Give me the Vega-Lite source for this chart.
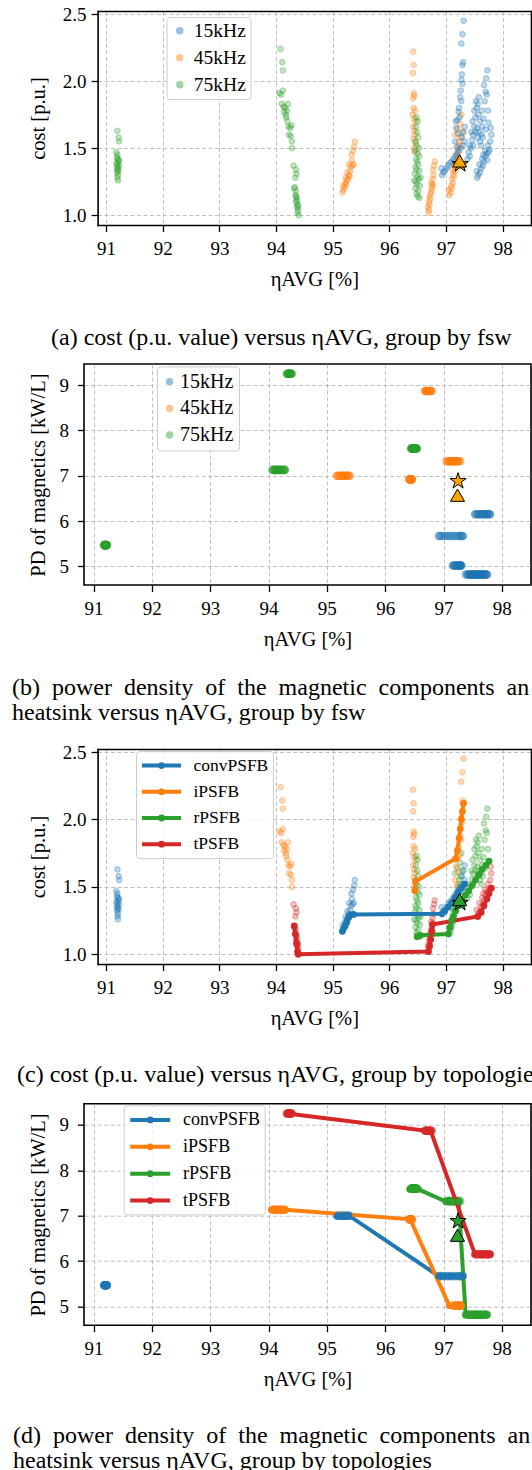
{
  "$schema": "https://vega.github.io/schema/vega-lite/v6.json",
  "background": "white",
  "padding": {"left": 11, "top": 5, "right": 0, "bottom": 0},
  "config": {
    "font": "Liberation Serif",
    "view": {"stroke": "black", "strokeWidth": 1.6},
    "style": {"guide-label": {"font": "Liberation Serif", "fill": "black"}, "guide-title": {"font": "Liberation Serif", "fill": "black"}},
    "axis": {"labelFont": "Liberation Serif", "labelFontSize": 19, "labelColor": "black", "titleFont": "Liberation Serif", "titleFontSize": 20.5, "titleFontWeight": "normal", "titleColor": "black", "tickColor": "black", "tickSize": 6.5, "tickWidth": 1.3, "domain": false, "gridColor": "#b0b0b0", "gridDash": [4, 2.5], "gridWidth": 0.8, "gridOpacity": 1, "labelPadding": 5, "labelOverlap": false, "labelFlush": false},
    "legend": {"labelFont": "Liberation Serif", "labelFontSize": 18.5, "labelColor": "black", "strokeColor": "#cccccc", "fillColor": "rgba(255,255,255,0.8)", "cornerRadius": 3},
    "title": {"font": "Liberation Serif", "fontSize": 24, "fontWeight": "normal", "color": "black"}
  },
  "datasets": {
    "pts": [
      {"t":"convPSFB","f":"75kHz","e":91.20,"c":1.63,"p":5.47},{"t":"convPSFB","f":"75kHz","e":91.22,"c":1.58,"p":5.47},{"t":"convPSFB","f":"75kHz","e":91.23,"c":1.55,"p":5.47},{"t":"convPSFB","f":"75kHz","e":91.18,"c":1.47,"p":5.47},{"t":"convPSFB","f":"75kHz","e":91.20,"c":1.45,"p":5.47},{"t":"convPSFB","f":"75kHz","e":91.19,"c":1.43,"p":5.47},{"t":"convPSFB","f":"75kHz","e":91.21,"c":1.42,"p":5.47},{"t":"convPSFB","f":"75kHz","e":91.23,"c":1.41,"p":5.47},{"t":"convPSFB","f":"75kHz","e":91.22,"c":1.40,"p":5.47},{"t":"convPSFB","f":"75kHz","e":91.18,"c":1.39,"p":5.47},{"t":"convPSFB","f":"75kHz","e":91.20,"c":1.38,"p":5.47},{"t":"convPSFB","f":"75kHz","e":91.23,"c":1.37,"p":5.47},{"t":"convPSFB","f":"75kHz","e":91.19,"c":1.36,"p":5.47},{"t":"convPSFB","f":"75kHz","e":91.21,"c":1.35,"p":5.47},{"t":"convPSFB","f":"75kHz","e":91.20,"c":1.34,"p":5.47},{"t":"convPSFB","f":"75kHz","e":91.22,"c":1.33,"p":5.47},{"t":"convPSFB","f":"75kHz","e":91.19,"c":1.32,"p":5.47},{"t":"convPSFB","f":"75kHz","e":91.21,"c":1.30,"p":5.47},{"t":"convPSFB","f":"75kHz","e":91.20,"c":1.28,"p":5.47},{"t":"convPSFB","f":"75kHz","e":91.21,"c":1.26,"p":5.47},
      {"t":"iPSFB","f":"75kHz","e":94.08,"c":2.24,"p":7.13},{"t":"iPSFB","f":"75kHz","e":94.11,"c":2.14,"p":7.13},{"t":"iPSFB","f":"75kHz","e":94.12,"c":2.08,"p":7.13},{"t":"iPSFB","f":"75kHz","e":94.06,"c":1.91,"p":7.13},{"t":"iPSFB","f":"75kHz","e":94.09,"c":1.90,"p":7.13},{"t":"iPSFB","f":"75kHz","e":94.12,"c":1.93,"p":7.13},{"t":"iPSFB","f":"75kHz","e":94.10,"c":1.83,"p":7.13},{"t":"iPSFB","f":"75kHz","e":94.13,"c":1.81,"p":7.13},{"t":"iPSFB","f":"75kHz","e":94.16,"c":1.80,"p":7.13},{"t":"iPSFB","f":"75kHz","e":94.14,"c":1.77,"p":7.13},{"t":"iPSFB","f":"75kHz","e":94.17,"c":1.75,"p":7.13},{"t":"iPSFB","f":"75kHz","e":94.19,"c":1.78,"p":7.13},{"t":"iPSFB","f":"75kHz","e":94.21,"c":1.83,"p":7.13},{"t":"iPSFB","f":"75kHz","e":94.18,"c":1.73,"p":7.13},{"t":"iPSFB","f":"75kHz","e":94.20,"c":1.70,"p":7.13},{"t":"iPSFB","f":"75kHz","e":94.22,"c":1.66,"p":7.13},{"t":"iPSFB","f":"75kHz","e":94.25,"c":1.65,"p":7.13},{"t":"iPSFB","f":"75kHz","e":94.27,"c":1.67,"p":7.13},{"t":"iPSFB","f":"75kHz","e":94.23,"c":1.60,"p":7.13},{"t":"iPSFB","f":"75kHz","e":94.26,"c":1.59,"p":7.13},{"t":"iPSFB","f":"75kHz","e":94.28,"c":1.55,"p":7.13},{"t":"iPSFB","f":"75kHz","e":94.28,"c":1.50,"p":7.13},
      {"t":"tPSFB","f":"75kHz","e":94.31,"c":1.37,"p":9.25},{"t":"tPSFB","f":"75kHz","e":94.35,"c":1.34,"p":9.25},{"t":"tPSFB","f":"75kHz","e":94.36,"c":1.31,"p":9.25},{"t":"tPSFB","f":"75kHz","e":94.34,"c":1.28,"p":9.25},{"t":"tPSFB","f":"75kHz","e":94.33,"c":1.21,"p":9.25},{"t":"tPSFB","f":"75kHz","e":94.32,"c":1.20,"p":9.25},{"t":"tPSFB","f":"75kHz","e":94.35,"c":1.18,"p":9.25},{"t":"tPSFB","f":"75kHz","e":94.34,"c":1.15,"p":9.25},{"t":"tPSFB","f":"75kHz","e":94.36,"c":1.14,"p":9.25},{"t":"tPSFB","f":"75kHz","e":94.36,"c":1.13,"p":9.25},{"t":"tPSFB","f":"75kHz","e":94.37,"c":1.11,"p":9.25},{"t":"tPSFB","f":"75kHz","e":94.35,"c":1.10,"p":9.25},{"t":"tPSFB","f":"75kHz","e":94.38,"c":1.08,"p":9.25},{"t":"tPSFB","f":"75kHz","e":94.39,"c":1.07,"p":9.25},{"t":"tPSFB","f":"75kHz","e":94.37,"c":1.06,"p":9.25},{"t":"tPSFB","f":"75kHz","e":94.39,"c":1.04,"p":9.25},{"t":"tPSFB","f":"75kHz","e":94.38,"c":1.02,"p":9.25},{"t":"tPSFB","f":"75kHz","e":94.40,"c":1.00,"p":9.25},
      {"t":"convPSFB","f":"45kHz","e":95.17,"c":1.17,"p":7.0},{"t":"convPSFB","f":"45kHz","e":95.19,"c":1.19,"p":7.0},{"t":"convPSFB","f":"45kHz","e":95.18,"c":1.22,"p":7.0},{"t":"convPSFB","f":"45kHz","e":95.21,"c":1.21,"p":7.0},{"t":"convPSFB","f":"45kHz","e":95.22,"c":1.24,"p":7.0},{"t":"convPSFB","f":"45kHz","e":95.24,"c":1.23,"p":7.0},{"t":"convPSFB","f":"45kHz","e":95.25,"c":1.26,"p":7.0},{"t":"convPSFB","f":"45kHz","e":95.23,"c":1.28,"p":7.0},{"t":"convPSFB","f":"45kHz","e":95.27,"c":1.27,"p":7.0},{"t":"convPSFB","f":"45kHz","e":95.28,"c":1.30,"p":7.0},{"t":"convPSFB","f":"45kHz","e":95.30,"c":1.29,"p":7.0},{"t":"convPSFB","f":"45kHz","e":95.26,"c":1.32,"p":7.0},{"t":"convPSFB","f":"45kHz","e":95.31,"c":1.33,"p":7.0},{"t":"convPSFB","f":"45kHz","e":95.32,"c":1.36,"p":7.0},{"t":"convPSFB","f":"45kHz","e":95.29,"c":1.38,"p":7.0},{"t":"convPSFB","f":"45kHz","e":95.35,"c":1.37,"p":7.0},{"t":"convPSFB","f":"45kHz","e":95.37,"c":1.38,"p":7.0},{"t":"convPSFB","f":"45kHz","e":95.34,"c":1.41,"p":7.0},{"t":"convPSFB","f":"45kHz","e":95.33,"c":1.45,"p":7.0},{"t":"convPSFB","f":"45kHz","e":95.36,"c":1.48,"p":7.0},{"t":"convPSFB","f":"45kHz","e":95.38,"c":1.51,"p":7.0},{"t":"convPSFB","f":"45kHz","e":95.39,"c":1.55,"p":7.0},
      {"t":"iPSFB","f":"45kHz","e":96.42,"c":2.22,"p":6.92},{"t":"iPSFB","f":"45kHz","e":96.43,"c":2.12,"p":6.92},{"t":"iPSFB","f":"45kHz","e":96.42,"c":2.06,"p":6.92},{"t":"iPSFB","f":"45kHz","e":96.43,"c":1.91,"p":6.92},{"t":"iPSFB","f":"45kHz","e":96.44,"c":1.89,"p":6.92},{"t":"iPSFB","f":"45kHz","e":96.42,"c":1.87,"p":6.92},{"t":"iPSFB","f":"45kHz","e":96.43,"c":1.80,"p":6.92},{"t":"iPSFB","f":"45kHz","e":96.45,"c":1.78,"p":6.92},{"t":"iPSFB","f":"45kHz","e":96.41,"c":1.75,"p":6.92},{"t":"iPSFB","f":"45kHz","e":96.44,"c":1.72,"p":6.92},{"t":"iPSFB","f":"45kHz","e":96.46,"c":1.70,"p":6.92},{"t":"iPSFB","f":"45kHz","e":96.42,"c":1.66,"p":6.92},{"t":"iPSFB","f":"45kHz","e":96.44,"c":1.63,"p":6.92},{"t":"iPSFB","f":"45kHz","e":96.45,"c":1.60,"p":6.92},{"t":"iPSFB","f":"45kHz","e":96.43,"c":1.57,"p":6.92},{"t":"iPSFB","f":"45kHz","e":96.46,"c":1.54,"p":6.92},{"t":"iPSFB","f":"45kHz","e":96.44,"c":1.50,"p":6.92},{"t":"iPSFB","f":"45kHz","e":96.45,"c":1.47,"p":6.92},
      {"t":"rPSFB","f":"75kHz","e":96.48,"c":1.73,"p":7.6},{"t":"rPSFB","f":"75kHz","e":96.50,"c":1.70,"p":7.6},{"t":"rPSFB","f":"75kHz","e":96.47,"c":1.66,"p":7.6},{"t":"rPSFB","f":"75kHz","e":96.49,"c":1.62,"p":7.6},{"t":"rPSFB","f":"75kHz","e":96.51,"c":1.58,"p":7.6},{"t":"rPSFB","f":"75kHz","e":96.46,"c":1.55,"p":7.6},{"t":"rPSFB","f":"75kHz","e":96.48,"c":1.52,"p":7.6},{"t":"rPSFB","f":"75kHz","e":96.52,"c":1.50,"p":7.6},{"t":"rPSFB","f":"75kHz","e":96.45,"c":1.48,"p":7.6},{"t":"rPSFB","f":"75kHz","e":96.50,"c":1.46,"p":7.6},{"t":"rPSFB","f":"75kHz","e":96.53,"c":1.44,"p":7.6},{"t":"rPSFB","f":"75kHz","e":96.47,"c":1.42,"p":7.6},{"t":"rPSFB","f":"75kHz","e":96.49,"c":1.40,"p":7.6},{"t":"rPSFB","f":"75kHz","e":96.51,"c":1.38,"p":7.6},{"t":"rPSFB","f":"75kHz","e":96.46,"c":1.36,"p":7.6},{"t":"rPSFB","f":"75kHz","e":96.48,"c":1.34,"p":7.6},{"t":"rPSFB","f":"75kHz","e":96.53,"c":1.33,"p":7.6},{"t":"rPSFB","f":"75kHz","e":96.45,"c":1.31,"p":7.6},{"t":"rPSFB","f":"75kHz","e":96.50,"c":1.29,"p":7.6},{"t":"rPSFB","f":"75kHz","e":96.55,"c":1.28,"p":7.6},{"t":"rPSFB","f":"75kHz","e":96.52,"c":1.27,"p":7.6},{"t":"rPSFB","f":"75kHz","e":96.44,"c":1.26,"p":7.6},{"t":"rPSFB","f":"75kHz","e":96.47,"c":1.25,"p":7.6},{"t":"rPSFB","f":"75kHz","e":96.49,"c":1.23,"p":7.6},{"t":"rPSFB","f":"75kHz","e":96.54,"c":1.22,"p":7.6},{"t":"rPSFB","f":"75kHz","e":96.46,"c":1.20,"p":7.6},{"t":"rPSFB","f":"75kHz","e":96.51,"c":1.18,"p":7.6},{"t":"rPSFB","f":"75kHz","e":96.48,"c":1.16,"p":7.6},{"t":"rPSFB","f":"75kHz","e":96.50,"c":1.14,"p":7.6},{"t":"rPSFB","f":"75kHz","e":96.53,"c":1.13,"p":7.6},
      {"t":"tPSFB","f":"45kHz","e":96.69,"c":1.02,"p":8.87},{"t":"tPSFB","f":"45kHz","e":96.70,"c":1.04,"p":8.87},{"t":"tPSFB","f":"45kHz","e":96.68,"c":1.06,"p":8.87},{"t":"tPSFB","f":"45kHz","e":96.71,"c":1.08,"p":8.87},{"t":"tPSFB","f":"45kHz","e":96.70,"c":1.10,"p":8.87},{"t":"tPSFB","f":"45kHz","e":96.72,"c":1.12,"p":8.87},{"t":"tPSFB","f":"45kHz","e":96.71,"c":1.14,"p":8.87},{"t":"tPSFB","f":"45kHz","e":96.73,"c":1.16,"p":8.87},{"t":"tPSFB","f":"45kHz","e":96.74,"c":1.18,"p":8.87},{"t":"tPSFB","f":"45kHz","e":96.75,"c":1.20,"p":8.87},{"t":"tPSFB","f":"45kHz","e":96.76,"c":1.22,"p":8.87},{"t":"tPSFB","f":"45kHz","e":96.74,"c":1.24,"p":8.87},{"t":"tPSFB","f":"45kHz","e":96.77,"c":1.23,"p":8.87},{"t":"tPSFB","f":"45kHz","e":96.76,"c":1.27,"p":8.87},{"t":"tPSFB","f":"45kHz","e":96.78,"c":1.30,"p":8.87},{"t":"tPSFB","f":"45kHz","e":96.77,"c":1.34,"p":8.87},{"t":"tPSFB","f":"45kHz","e":96.79,"c":1.37,"p":8.87},{"t":"tPSFB","f":"45kHz","e":96.80,"c":1.40,"p":8.87},
      {"t":"rPSFB","f":"45kHz","e":97.06,"c":1.15,"p":7.32},{"t":"rPSFB","f":"45kHz","e":97.08,"c":1.17,"p":7.32},{"t":"rPSFB","f":"45kHz","e":97.05,"c":1.19,"p":7.32},{"t":"rPSFB","f":"45kHz","e":97.10,"c":1.20,"p":7.32},{"t":"rPSFB","f":"45kHz","e":97.09,"c":1.22,"p":7.32},{"t":"rPSFB","f":"45kHz","e":97.12,"c":1.24,"p":7.32},{"t":"rPSFB","f":"45kHz","e":97.11,"c":1.27,"p":7.32},{"t":"rPSFB","f":"45kHz","e":97.14,"c":1.29,"p":7.32},{"t":"rPSFB","f":"45kHz","e":97.13,"c":1.31,"p":7.32},{"t":"rPSFB","f":"45kHz","e":97.12,"c":1.34,"p":7.32},{"t":"rPSFB","f":"45kHz","e":97.16,"c":1.33,"p":7.32},{"t":"rPSFB","f":"45kHz","e":97.15,"c":1.36,"p":7.32},{"t":"rPSFB","f":"45kHz","e":97.18,"c":1.38,"p":7.32},{"t":"rPSFB","f":"45kHz","e":97.17,"c":1.40,"p":7.32},{"t":"rPSFB","f":"45kHz","e":97.20,"c":1.42,"p":7.32},{"t":"rPSFB","f":"45kHz","e":97.19,"c":1.45,"p":7.32},{"t":"rPSFB","f":"45kHz","e":97.22,"c":1.47,"p":7.32},{"t":"rPSFB","f":"45kHz","e":97.21,"c":1.50,"p":7.32},{"t":"rPSFB","f":"45kHz","e":97.24,"c":1.52,"p":7.32},{"t":"rPSFB","f":"45kHz","e":97.23,"c":1.55,"p":7.32},{"t":"rPSFB","f":"45kHz","e":97.26,"c":1.58,"p":7.32},{"t":"rPSFB","f":"45kHz","e":97.16,"c":1.60,"p":7.32},{"t":"rPSFB","f":"45kHz","e":97.29,"c":1.62,"p":7.32},{"t":"rPSFB","f":"45kHz","e":97.20,"c":1.64,"p":7.32},{"t":"rPSFB","f":"45kHz","e":97.25,"c":1.68,"p":7.32},{"t":"rPSFB","f":"45kHz","e":97.27,"c":1.75,"p":7.32},
      {"t":"iPSFB","f":"15kHz","e":97.31,"c":2.45,"p":5.02},{"t":"iPSFB","f":"15kHz","e":97.29,"c":2.35,"p":5.02},{"t":"iPSFB","f":"15kHz","e":97.27,"c":2.28,"p":5.02},{"t":"iPSFB","f":"15kHz","e":97.30,"c":2.14,"p":5.02},{"t":"iPSFB","f":"15kHz","e":97.29,"c":2.12,"p":5.02},{"t":"iPSFB","f":"15kHz","e":97.28,"c":2.05,"p":5.02},{"t":"iPSFB","f":"15kHz","e":97.27,"c":2.01,"p":5.02},{"t":"iPSFB","f":"15kHz","e":97.29,"c":1.98,"p":5.02},{"t":"iPSFB","f":"15kHz","e":97.26,"c":1.93,"p":5.02},{"t":"iPSFB","f":"15kHz","e":97.25,"c":1.88,"p":5.02},{"t":"iPSFB","f":"15kHz","e":97.27,"c":1.85,"p":5.02},{"t":"iPSFB","f":"15kHz","e":97.23,"c":1.80,"p":5.02},{"t":"iPSFB","f":"15kHz","e":97.22,"c":1.77,"p":5.02},{"t":"iPSFB","f":"15kHz","e":97.24,"c":1.73,"p":5.02},{"t":"iPSFB","f":"15kHz","e":97.20,"c":1.71,"p":5.02},{"t":"iPSFB","f":"15kHz","e":97.17,"c":1.70,"p":5.02},{"t":"iPSFB","f":"15kHz","e":97.18,"c":1.65,"p":5.02},{"t":"iPSFB","f":"15kHz","e":97.21,"c":1.61,"p":5.02},{"t":"iPSFB","f":"15kHz","e":97.16,"c":1.55,"p":5.02},{"t":"iPSFB","f":"15kHz","e":97.19,"c":1.51,"p":5.02},
      {"t":"convPSFB","f":"15kHz","e":96.93,"c":1.30,"p":5.67},{"t":"convPSFB","f":"15kHz","e":96.95,"c":1.32,"p":5.67},{"t":"convPSFB","f":"15kHz","e":96.92,"c":1.35,"p":5.67},{"t":"convPSFB","f":"15kHz","e":96.98,"c":1.33,"p":5.67},{"t":"convPSFB","f":"15kHz","e":97.01,"c":1.35,"p":5.67},{"t":"convPSFB","f":"15kHz","e":97.04,"c":1.37,"p":5.67},{"t":"convPSFB","f":"15kHz","e":97.07,"c":1.39,"p":5.67},{"t":"convPSFB","f":"15kHz","e":97.10,"c":1.40,"p":5.67},{"t":"convPSFB","f":"15kHz","e":97.13,"c":1.42,"p":5.67},{"t":"convPSFB","f":"15kHz","e":97.16,"c":1.44,"p":5.67},{"t":"convPSFB","f":"15kHz","e":97.19,"c":1.46,"p":5.67},{"t":"convPSFB","f":"15kHz","e":97.22,"c":1.48,"p":5.67},{"t":"convPSFB","f":"15kHz","e":97.26,"c":1.50,"p":5.67},{"t":"convPSFB","f":"15kHz","e":97.30,"c":1.52,"p":5.67},{"t":"convPSFB","f":"15kHz","e":97.33,"c":1.55,"p":5.67},{"t":"convPSFB","f":"15kHz","e":97.28,"c":1.58,"p":5.67},{"t":"convPSFB","f":"15kHz","e":97.31,"c":1.62,"p":5.67},{"t":"convPSFB","f":"15kHz","e":97.33,"c":1.66,"p":5.67},
      {"t":"rPSFB","f":"15kHz","e":97.38,"c":1.42,"p":4.82},{"t":"rPSFB","f":"15kHz","e":97.42,"c":1.44,"p":4.82},{"t":"rPSFB","f":"15kHz","e":97.40,"c":1.47,"p":4.82},{"t":"rPSFB","f":"15kHz","e":97.42,"c":1.52,"p":4.82},{"t":"rPSFB","f":"15kHz","e":97.44,"c":1.50,"p":4.82},{"t":"rPSFB","f":"15kHz","e":97.48,"c":1.52,"p":4.82},{"t":"rPSFB","f":"15kHz","e":97.46,"c":1.56,"p":4.82},{"t":"rPSFB","f":"15kHz","e":97.45,"c":1.62,"p":4.82},{"t":"rPSFB","f":"15kHz","e":97.48,"c":1.60,"p":4.82},{"t":"rPSFB","f":"15kHz","e":97.50,"c":1.66,"p":4.82},{"t":"rPSFB","f":"15kHz","e":97.47,"c":1.70,"p":4.82},{"t":"rPSFB","f":"15kHz","e":97.52,"c":1.73,"p":4.82},{"t":"rPSFB","f":"15kHz","e":97.50,"c":1.78,"p":4.82},{"t":"rPSFB","f":"15kHz","e":97.54,"c":1.80,"p":4.82},{"t":"rPSFB","f":"15kHz","e":97.53,"c":1.85,"p":4.82},{"t":"rPSFB","f":"15kHz","e":97.56,"c":1.83,"p":4.82},{"t":"rPSFB","f":"15kHz","e":97.58,"c":1.88,"p":4.82},{"t":"rPSFB","f":"15kHz","e":97.57,"c":1.75,"p":4.82},{"t":"rPSFB","f":"15kHz","e":97.60,"c":1.70,"p":4.82},{"t":"rPSFB","f":"15kHz","e":97.55,"c":1.65,"p":4.82},{"t":"rPSFB","f":"15kHz","e":97.52,"c":1.62,"p":4.82},{"t":"rPSFB","f":"15kHz","e":97.56,"c":1.58,"p":4.82},{"t":"rPSFB","f":"15kHz","e":97.58,"c":1.62,"p":4.82},{"t":"rPSFB","f":"15kHz","e":97.62,"c":1.60,"p":4.82},{"t":"rPSFB","f":"15kHz","e":97.60,"c":1.55,"p":4.82},{"t":"rPSFB","f":"15kHz","e":97.62,"c":1.52,"p":4.82},{"t":"rPSFB","f":"15kHz","e":97.64,"c":1.66,"p":4.82},{"t":"rPSFB","f":"15kHz","e":97.65,"c":1.58,"p":4.82},{"t":"rPSFB","f":"15kHz","e":97.66,"c":1.72,"p":4.82},{"t":"rPSFB","f":"15kHz","e":97.63,"c":1.78,"p":4.82},{"t":"rPSFB","f":"15kHz","e":97.68,"c":1.85,"p":4.82},{"t":"rPSFB","f":"15kHz","e":97.70,"c":1.92,"p":4.82},{"t":"rPSFB","f":"15kHz","e":97.67,"c":1.97,"p":4.82},{"t":"rPSFB","f":"15kHz","e":97.71,"c":2.02,"p":4.82},{"t":"rPSFB","f":"15kHz","e":97.73,"c":2.08,"p":4.82},{"t":"rPSFB","f":"15kHz","e":97.72,"c":1.90,"p":4.82},{"t":"rPSFB","f":"15kHz","e":97.74,"c":1.78,"p":4.82},{"t":"rPSFB","f":"15kHz","e":97.75,"c":1.69,"p":4.82},{"t":"rPSFB","f":"15kHz","e":97.70,"c":1.64,"p":4.82},
      {"t":"tPSFB","f":"15kHz","e":97.55,"c":1.28,"p":6.15},{"t":"tPSFB","f":"15kHz","e":97.57,"c":1.30,"p":6.15},{"t":"tPSFB","f":"15kHz","e":97.54,"c":1.33,"p":6.15},{"t":"tPSFB","f":"15kHz","e":97.60,"c":1.32,"p":6.15},{"t":"tPSFB","f":"15kHz","e":97.62,"c":1.35,"p":6.15},{"t":"tPSFB","f":"15kHz","e":97.59,"c":1.38,"p":6.15},{"t":"tPSFB","f":"15kHz","e":97.65,"c":1.37,"p":6.15},{"t":"tPSFB","f":"15kHz","e":97.67,"c":1.40,"p":6.15},{"t":"tPSFB","f":"15kHz","e":97.64,"c":1.42,"p":6.15},{"t":"tPSFB","f":"15kHz","e":97.73,"c":1.41,"p":6.15},{"t":"tPSFB","f":"15kHz","e":97.70,"c":1.44,"p":6.15},{"t":"tPSFB","f":"15kHz","e":97.66,"c":1.45,"p":6.15},{"t":"tPSFB","f":"15kHz","e":97.72,"c":1.46,"p":6.15},{"t":"tPSFB","f":"15kHz","e":97.69,"c":1.48,"p":6.15},{"t":"tPSFB","f":"15kHz","e":97.75,"c":1.47,"p":6.15},{"t":"tPSFB","f":"15kHz","e":97.77,"c":1.49,"p":6.15},{"t":"tPSFB","f":"15kHz","e":97.74,"c":1.52,"p":6.15},{"t":"tPSFB","f":"15kHz","e":97.78,"c":1.55,"p":6.15},{"t":"tPSFB","f":"15kHz","e":97.80,"c":1.60,"p":6.15},{"t":"tPSFB","f":"15kHz","e":97.79,"c":1.65,"p":6.15}
    ],
    "parC": [
      {"t":"convPSFB","e":95.17,"c":1.17},{"t":"convPSFB","e":95.19,"c":1.19},{"t":"convPSFB","e":95.22,"c":1.21},{"t":"convPSFB","e":95.25,"c":1.24},{"t":"convPSFB","e":95.28,"c":1.27},{"t":"convPSFB","e":95.31,"c":1.29},{"t":"convPSFB","e":95.37,"c":1.295},{"t":"convPSFB","e":96.93,"c":1.30},{"t":"convPSFB","e":96.98,"c":1.32},{"t":"convPSFB","e":97.04,"c":1.35},{"t":"convPSFB","e":97.10,"c":1.38},{"t":"convPSFB","e":97.16,"c":1.42},{"t":"convPSFB","e":97.22,"c":1.46},{"t":"convPSFB","e":97.28,"c":1.49},{"t":"convPSFB","e":97.33,"c":1.52},
      {"t":"iPSFB","e":96.45,"c":1.47},{"t":"iPSFB","e":96.46,"c":1.54},{"t":"iPSFB","e":97.17,"c":1.71},{"t":"iPSFB","e":97.20,"c":1.77},{"t":"iPSFB","e":97.23,"c":1.86},{"t":"iPSFB","e":97.25,"c":1.93},{"t":"iPSFB","e":97.27,"c":2.00},{"t":"iPSFB","e":97.29,"c":2.06},{"t":"iPSFB","e":97.31,"c":2.12},
      {"t":"rPSFB","e":96.49,"c":1.13},{"t":"rPSFB","e":96.55,"c":1.14},{"t":"rPSFB","e":97.04,"c":1.15},{"t":"rPSFB","e":97.07,"c":1.20},{"t":"rPSFB","e":97.10,"c":1.25},{"t":"rPSFB","e":97.13,"c":1.28},{"t":"rPSFB","e":97.17,"c":1.32},{"t":"rPSFB","e":97.22,"c":1.36},{"t":"rPSFB","e":97.28,"c":1.40},{"t":"rPSFB","e":97.34,"c":1.44},{"t":"rPSFB","e":97.40,"c":1.47},{"t":"rPSFB","e":97.46,"c":1.51},{"t":"rPSFB","e":97.52,"c":1.55},{"t":"rPSFB","e":97.58,"c":1.59},{"t":"rPSFB","e":97.64,"c":1.63},{"t":"rPSFB","e":97.70,"c":1.66},{"t":"rPSFB","e":97.76,"c":1.69},
      {"t":"tPSFB","e":94.32,"c":1.21},{"t":"tPSFB","e":94.34,"c":1.15},{"t":"tPSFB","e":94.36,"c":1.08},{"t":"tPSFB","e":94.38,"c":1.02},{"t":"tPSFB","e":94.39,"c":1.00},{"t":"tPSFB","e":96.69,"c":1.02},{"t":"tPSFB","e":96.71,"c":1.06},{"t":"tPSFB","e":96.73,"c":1.11},{"t":"tPSFB","e":96.75,"c":1.17},{"t":"tPSFB","e":96.76,"c":1.22},{"t":"tPSFB","e":97.56,"c":1.28},{"t":"tPSFB","e":97.62,"c":1.31},{"t":"tPSFB","e":97.67,"c":1.36},{"t":"tPSFB","e":97.72,"c":1.41},{"t":"tPSFB","e":97.76,"c":1.45},{"t":"tPSFB","e":97.80,"c":1.49}
    ],
    "parD": [
      {"t":"convPSFB","e":95.18,"p":7.0},{"t":"convPSFB","e":95.25,"p":7.0},{"t":"convPSFB","e":95.32,"p":7.0},{"t":"convPSFB","e":95.38,"p":7.0},{"t":"convPSFB","e":96.92,"p":5.67},{"t":"convPSFB","e":97.02,"p":5.67},{"t":"convPSFB","e":97.12,"p":5.67},{"t":"convPSFB","e":97.22,"p":5.67},{"t":"convPSFB","e":97.33,"p":5.67},
      {"t":"iPSFB","e":94.05,"p":7.13},{"t":"iPSFB","e":94.13,"p":7.13},{"t":"iPSFB","e":94.21,"p":7.13},{"t":"iPSFB","e":94.29,"p":7.13},{"t":"iPSFB","e":96.43,"p":6.92},{"t":"iPSFB","e":97.10,"p":5.02},{"t":"iPSFB","e":97.20,"p":5.02},{"t":"iPSFB","e":97.31,"p":5.02},
      {"t":"rPSFB","e":96.42,"p":7.58},{"t":"rPSFB","e":96.50,"p":7.58},{"t":"rPSFB","e":96.57,"p":7.58},{"t":"rPSFB","e":97.04,"p":7.31},{"t":"rPSFB","e":97.15,"p":7.31},{"t":"rPSFB","e":97.26,"p":7.31},{"t":"rPSFB","e":97.38,"p":4.82},{"t":"rPSFB","e":97.50,"p":4.82},{"t":"rPSFB","e":97.62,"p":4.82},{"t":"rPSFB","e":97.74,"p":4.82},
      {"t":"tPSFB","e":94.32,"p":9.24},{"t":"tPSFB","e":94.39,"p":9.24},{"t":"tPSFB","e":96.70,"p":8.87},{"t":"tPSFB","e":96.78,"p":8.87},{"t":"tPSFB","e":97.54,"p":6.15},{"t":"tPSFB","e":97.62,"p":6.15},{"t":"tPSFB","e":97.70,"p":6.15},{"t":"tPSFB","e":97.80,"p":6.15}
    ],
    "star": [{"e":97.25,"c":1.38,"p":6.88}],
    "tri": [{"e":97.24,"c":1.405,"p":6.57}]
  },
  "vconcat": [
    {
      "vconcat": [
        {
          "width": 447, "height": 214,
          "view": {"stroke": null},
          "title": {"text": "(a) cost (p.u. value) versus ηAVG, group by fsw", "orient": "bottom", "anchor": "start", "frame": "group", "offset": 36, "dx": -33},
          "layer": [
            {
              "data": {"name": "pts"},
              "mark": {"type": "point", "filled": false, "size": 30, "strokeWidth": 1.2, "strokeOpacity": 0.32, "fillOpacity": 0.28},
              "encoding": {
                "x": {"field": "e", "type": "quantitative", "scale": {"domain": [90.85, 98.5], "range": [13.6, 447], "nice": false, "zero": false}, "axis": {"orient": "bottom", "values": [91, 92, 93, 94, 95, 96, 97, 98], "title": "ηAVG [%]", "titleY": 54, "titleBaseline": "middle", "labelPadding": 7.5, "labelFont": "Liberation Serif", "titleFont": "Liberation Serif", "grid": true, "domain": true, "domainColor": "black", "domainWidth": 1.6, "domainCap": "square"}},
                "y": {"field": "c", "type": "quantitative", "scale": {"domain": [0.9275, 2.5225], "nice": false, "zero": false}, "axis": {"values": [1, 1.5, 2, 2.5], "format": ".1f", "offset": -13.6, "title": "cost [p.u.]", "titleX": -58.7, "titleBaseline": "middle", "labelFont": "Liberation Serif", "titleFont": "Liberation Serif", "grid": true, "domain": true, "domainColor": "black", "domainWidth": 1.6, "domainCap": "square", "labelPadding": 5}},
                "color": {"field": "f", "type": "nominal", "scale": {"domain": ["15kHz", "45kHz", "75kHz"], "range": ["#1f77b4", "#ff7f0e", "#2ca02c"]}, "legend": {"orient": "none", "legendX": 82.5, "legendY": 6.1, "title": null, "labelFontSize": 19.5, "symbolType": "circle", "symbolSize": 36, "symbolStrokeWidth": 1.5, "symbolOpacity": 0.45, "symbolOffset": -0.5, "rowPadding": 6, "labelOffset": 4.3, "padding": 4}},
                "fill": {"field": "f", "type": "nominal", "scale": {"domain": ["15kHz", "45kHz", "75kHz"], "range": ["#1f77b4", "#ff7f0e", "#2ca02c"]}, "legend": null}
              }
            },
            {
              "data": {"name": "star"},
              "mark": {"type": "point", "shape": "M0,-1L0.2245,-0.309L0.951,-0.309L0.3633,0.118L0.588,0.809L0,0.382L-0.588,0.809L-0.3633,0.118L-0.951,-0.309L-0.2245,-0.309Z", "filled": true, "fill": "#ffa500", "stroke": "black", "strokeWidth": 1, "size": 290, "opacity": 1},
              "encoding": {
                "x": {"field": "e", "type": "quantitative", "scale": {"domain": [90.85, 98.5], "range": [13.6, 447], "nice": false, "zero": false}, "axis": {"orient": "top", "labels": false, "ticks": false, "grid": false, "domain": true, "domainColor": "black", "domainWidth": 1.6, "domainCap": "square", "title": null}},
                "y": {"field": "c", "type": "quantitative", "scale": {"domain": [0.9275, 2.5225], "nice": false, "zero": false}, "axis": {"orient": "right", "labels": false, "ticks": false, "grid": false, "domain": true, "domainColor": "black", "domainWidth": 1.6, "domainCap": "square", "title": null}}
              }
            },
            {
              "data": {"name": "tri"},
              "mark": {"type": "point", "shape": "triangle-up", "filled": true, "fill": "#ffa500", "stroke": "black", "strokeWidth": 1, "size": 200, "opacity": 1},
              "encoding": {
                "x": {"field": "e", "type": "quantitative", "scale": {"domain": [90.85, 98.5], "range": [13.6, 447], "nice": false, "zero": false}, "axis": null},
                "y": {"field": "c", "type": "quantitative", "scale": {"domain": [0.9275, 2.5225], "nice": false, "zero": false}, "axis": null}
              }
            }
          ],
          "resolve": {"axis": {"x": "independent", "y": "independent"}}
        },
        {
          "width": 447, "height": 221,
          "title": {"text": ["(b) \u2005power \u2005density \u2005of \u2005the \u2005magnetic \u2005components \u2005an", "heatsink versus ηAVG, group by fsw"], "orient": "bottom", "anchor": "start", "frame": "group", "offset": 26, "dx": -72, "lineHeight": 25.5},
          "layer": [
            {
              "data": {"name": "pts"},
              "mark": {"type": "point", "filled": false, "size": 55, "strokeWidth": 1.2, "strokeOpacity": 0.32, "fillOpacity": 0.28},
              "encoding": {
                "x": {"field": "e", "type": "quantitative", "scale": {"domain": [90.837, 98.5], "nice": false, "zero": false}, "axis": {"values": [91, 92, 93, 94, 95, 96, 97, 98], "title": "ηAVG [%]", "titleY": 54, "titleBaseline": "middle", "labelPadding": 7.5, "labelFont": "Liberation Serif", "titleFont": "Liberation Serif", "grid": true}},
                "y": {"field": "p", "type": "quantitative", "scale": {"domain": [4.59, 9.465], "nice": false, "zero": false}, "axis": {"values": [5, 6, 7, 8, 9], "title": "PD of magnetics [kW/L]", "titleX": -45.1, "titleBaseline": "middle", "labelFont": "Liberation Serif", "titleFont": "Liberation Serif", "grid": true, "labelPadding": 9}},
                "color": {"field": "f", "type": "nominal", "scale": {"domain": ["15kHz", "45kHz", "75kHz"], "range": ["#1f77b4", "#ff7f0e", "#2ca02c"]}, "legend": {"orient": "none", "legendX": 73, "legendY": 2.4, "title": null, "labelFontSize": 20, "symbolType": "circle", "symbolSize": 36, "symbolStrokeWidth": 1.5, "symbolOpacity": 0.45, "symbolOffset": -2.7, "rowPadding": 6.7, "labelOffset": 0.5, "padding": 5.3}},
                "fill": {"field": "f", "type": "nominal", "scale": {"domain": ["15kHz", "45kHz", "75kHz"], "range": ["#1f77b4", "#ff7f0e", "#2ca02c"]}, "legend": null}
              }
            },
            {
              "data": {"name": "star"},
              "mark": {"type": "point", "shape": "M0,-1L0.2245,-0.309L0.951,-0.309L0.3633,0.118L0.588,0.809L0,0.382L-0.588,0.809L-0.3633,0.118L-0.951,-0.309L-0.2245,-0.309Z", "filled": true, "fill": "#ffa500", "stroke": "black", "strokeWidth": 1, "size": 290, "opacity": 1},
              "encoding": {
                "x": {"field": "e", "type": "quantitative", "scale": {"domain": [90.837, 98.5], "nice": false, "zero": false}, "axis": null},
                "y": {"field": "p", "type": "quantitative", "scale": {"domain": [4.59, 9.465], "nice": false, "zero": false}, "axis": null}
              }
            },
            {
              "data": {"name": "tri"},
              "mark": {"type": "point", "shape": "triangle-up", "filled": true, "fill": "#ffa500", "stroke": "black", "strokeWidth": 1, "size": 200, "opacity": 1},
              "encoding": {
                "x": {"field": "e", "type": "quantitative", "scale": {"domain": [90.837, 98.5], "nice": false, "zero": false}, "axis": null},
                "y": {"field": "p", "type": "quantitative", "scale": {"domain": [4.59, 9.465], "nice": false, "zero": false}, "axis": null}
              }
            }
          ],
          "resolve": {"axis": {"x": "independent", "y": "independent"}}
        }
      ],
      "spacing": 13,
      "resolve": {"scale": {"color": "independent", "fill": "independent", "x": "independent", "y": "independent"}, "legend": {"color": "independent", "fill": "independent"}}
    },
    {
      "vconcat": [
        {
          "width": 447, "height": 215,
          "view": {"stroke": null},
          "title": {"text": "(c) cost (p.u. value) versus ηAVG, group by topologie", "orient": "bottom", "anchor": "start", "frame": "group", "offset": 34.4, "dx": -67},
          "layer": [
            {
              "data": {"name": "pts"},
              "mark": {"type": "point", "filled": false, "size": 30, "strokeWidth": 1.2, "strokeOpacity": 0.32, "fillOpacity": 0.28},
              "encoding": {
                "x": {"field": "e", "type": "quantitative", "scale": {"domain": [90.85, 98.5], "range": [13.6, 447], "nice": false, "zero": false}, "axis": {"orient": "bottom", "values": [91, 92, 93, 94, 95, 96, 97, 98], "title": "ηAVG [%]", "titleY": 54, "titleBaseline": "middle", "labelPadding": 7.5, "labelFont": "Liberation Serif", "titleFont": "Liberation Serif", "grid": true, "domain": true, "domainColor": "black", "domainWidth": 1.6, "domainCap": "square"}},
                "y": {"field": "c", "type": "quantitative", "scale": {"domain": [0.9275, 2.5225], "nice": false, "zero": false}, "axis": {"values": [1, 1.5, 2, 2.5], "format": ".1f", "offset": -13.6, "title": "cost [p.u.]", "titleX": -58.7, "titleBaseline": "middle", "labelFont": "Liberation Serif", "titleFont": "Liberation Serif", "grid": true, "domain": true, "domainColor": "black", "domainWidth": 1.6, "domainCap": "square", "labelPadding": 5}},
                "color": {"field": "t", "type": "nominal", "scale": {"domain": ["convPSFB", "iPSFB", "rPSFB", "tPSFB"], "range": ["#1f77b4", "#ff7f0e", "#2ca02c", "#d62728"]}, "legend": {"orient": "none", "legendX": 52, "legendY": 2.1, "title": null, "labelFontSize": 17.5, "symbolType": "M-2.3,0L2.3,0M-0.165,0A0.165 0.165 0 1 1 0.165,0A0.165 0.165 0 1 1 -0.165,0", "symbolSize": 289, "symbolStrokeWidth": 4, "symbolOffset": 11, "rowPadding": 6.2, "labelOffset": 21.4, "padding": 4}},
                "fill": {"field": "t", "type": "nominal", "scale": {"domain": ["convPSFB", "iPSFB", "rPSFB", "tPSFB"], "range": ["#1f77b4", "#ff7f0e", "#2ca02c", "#d62728"]}, "legend": null}
              }
            },
            {
              "data": {"name": "parC"},
              "mark": {"type": "line", "strokeWidth": 4, "point": {"filled": true, "size": 45}},
              "encoding": {
                "x": {"field": "e", "type": "quantitative", "scale": {"domain": [90.85, 98.5], "range": [13.6, 447], "nice": false, "zero": false}, "axis": null},
                "y": {"field": "c", "type": "quantitative", "scale": {"domain": [0.9275, 2.5225], "nice": false, "zero": false}, "axis": null},
                "color": {"field": "t", "type": "nominal", "scale": {"domain": ["convPSFB", "iPSFB", "rPSFB", "tPSFB"], "range": ["#1f77b4", "#ff7f0e", "#2ca02c", "#d62728"]}, "legend": {"orient": "none", "legendX": 52, "legendY": 2.1, "title": null, "labelFontSize": 17.5, "symbolType": "M-2.3,0L2.3,0M-0.165,0A0.165 0.165 0 1 1 0.165,0A0.165 0.165 0 1 1 -0.165,0", "symbolSize": 289, "symbolStrokeWidth": 4, "symbolOffset": 11, "rowPadding": 6.2, "labelOffset": 21.4, "padding": 4}}
              }
            },
            {
              "data": {"name": "star"},
              "mark": {"type": "point", "shape": "M0,-1L0.2245,-0.309L0.951,-0.309L0.3633,0.118L0.588,0.809L0,0.382L-0.588,0.809L-0.3633,0.118L-0.951,-0.309L-0.2245,-0.309Z", "filled": true, "fill": "#2ca02c", "stroke": "black", "strokeWidth": 1, "size": 290, "opacity": 1},
              "encoding": {
                "x": {"field": "e", "type": "quantitative", "scale": {"domain": [90.85, 98.5], "range": [13.6, 447], "nice": false, "zero": false}, "axis": {"orient": "top", "labels": false, "ticks": false, "grid": false, "domain": true, "domainColor": "black", "domainWidth": 1.6, "domainCap": "square", "title": null}},
                "y": {"field": "c", "type": "quantitative", "scale": {"domain": [0.9275, 2.5225], "nice": false, "zero": false}, "axis": {"orient": "right", "labels": false, "ticks": false, "grid": false, "domain": true, "domainColor": "black", "domainWidth": 1.6, "domainCap": "square", "title": null}}
              }
            },
            {
              "data": {"name": "tri"},
              "mark": {"type": "point", "shape": "triangle-up", "filled": true, "fill": "#2ca02c", "stroke": "black", "strokeWidth": 1, "size": 200, "opacity": 1},
              "encoding": {
                "x": {"field": "e", "type": "quantitative", "scale": {"domain": [90.85, 98.5], "range": [13.6, 447], "nice": false, "zero": false}, "axis": null},
                "y": {"field": "c", "type": "quantitative", "scale": {"domain": [0.9275, 2.5225], "nice": false, "zero": false}, "axis": null}
              }
            }
          ],
          "resolve": {"axis": {"x": "independent", "y": "independent"}}
        },
        {
          "width": 447, "height": 221.5,
          "title": {"text": ["(d) \u2005power \u2005density \u2005of \u2005the \u2005magnetic \u2005components \u2005an", "heatsink versus ηAVG, group by topologies"], "orient": "bottom", "anchor": "start", "frame": "group", "offset": 34, "dx": -71, "lineHeight": 25},
          "layer": [
            {
              "data": {"name": "pts"},
              "mark": {"type": "point", "filled": false, "size": 55, "strokeWidth": 1.2, "strokeOpacity": 0.32, "fillOpacity": 0.28},
              "encoding": {
                "x": {"field": "e", "type": "quantitative", "scale": {"domain": [90.837, 98.5], "nice": false, "zero": false}, "axis": {"values": [91, 92, 93, 94, 95, 96, 97, 98], "title": "ηAVG [%]", "titleY": 54, "titleBaseline": "middle", "labelPadding": 7.5, "labelFont": "Liberation Serif", "titleFont": "Liberation Serif", "grid": true}},
                "y": {"field": "p", "type": "quantitative", "scale": {"domain": [4.59, 9.465], "nice": false, "zero": false}, "axis": {"values": [5, 6, 7, 8, 9], "title": "PD of magnetics [kW/L]", "titleX": -45.1, "titleBaseline": "middle", "labelFont": "Liberation Serif", "titleFont": "Liberation Serif", "grid": true, "labelPadding": 9}},
                "color": {"field": "t", "type": "nominal", "scale": {"domain": ["convPSFB", "iPSFB", "rPSFB", "tPSFB"], "range": ["#1f77b4", "#ff7f0e", "#2ca02c", "#d62728"]}, "legend": {"orient": "none", "legendX": 39.7, "legendY": 1.7, "title": null, "labelFontSize": 18, "symbolType": "M-2.35,0L2.35,0M-0.165,0A0.165 0.165 0 1 1 0.165,0A0.165 0.165 0 1 1 -0.165,0", "symbolSize": 289, "symbolStrokeWidth": 4, "symbolOffset": 12, "rowPadding": 6.9, "labelOffset": 22.4, "padding": 4}},
                "fill": {"field": "t", "type": "nominal", "scale": {"domain": ["convPSFB", "iPSFB", "rPSFB", "tPSFB"], "range": ["#1f77b4", "#ff7f0e", "#2ca02c", "#d62728"]}, "legend": null}
              }
            },
            {
              "data": {"name": "parD"},
              "mark": {"type": "line", "strokeWidth": 4, "point": {"filled": true, "size": 45}},
              "encoding": {
                "x": {"field": "e", "type": "quantitative", "scale": {"domain": [90.837, 98.5], "nice": false, "zero": false}, "axis": null},
                "y": {"field": "p", "type": "quantitative", "scale": {"domain": [4.59, 9.465], "nice": false, "zero": false}, "axis": null},
                "color": {"field": "t", "type": "nominal", "scale": {"domain": ["convPSFB", "iPSFB", "rPSFB", "tPSFB"], "range": ["#1f77b4", "#ff7f0e", "#2ca02c", "#d62728"]}, "legend": {"orient": "none", "legendX": 39.7, "legendY": 1.7, "title": null, "labelFontSize": 18, "symbolType": "M-2.35,0L2.35,0M-0.165,0A0.165 0.165 0 1 1 0.165,0A0.165 0.165 0 1 1 -0.165,0", "symbolSize": 289, "symbolStrokeWidth": 4, "symbolOffset": 12, "rowPadding": 6.9, "labelOffset": 22.4, "padding": 4}}
              }
            },
            {
              "data": {"name": "star"},
              "mark": {"type": "point", "shape": "M0,-1L0.2245,-0.309L0.951,-0.309L0.3633,0.118L0.588,0.809L0,0.382L-0.588,0.809L-0.3633,0.118L-0.951,-0.309L-0.2245,-0.309Z", "filled": true, "fill": "#2ca02c", "stroke": "black", "strokeWidth": 1, "size": 290, "opacity": 1},
              "encoding": {
                "x": {"field": "e", "type": "quantitative", "scale": {"domain": [90.837, 98.5], "nice": false, "zero": false}, "axis": null},
                "y": {"field": "p", "type": "quantitative", "scale": {"domain": [4.59, 9.465], "nice": false, "zero": false}, "axis": null}
              }
            },
            {
              "data": {"name": "tri"},
              "mark": {"type": "point", "shape": "triangle-up", "filled": true, "fill": "#2ca02c", "stroke": "black", "strokeWidth": 1, "size": 200, "opacity": 1},
              "encoding": {
                "x": {"field": "e", "type": "quantitative", "scale": {"domain": [90.837, 98.5], "nice": false, "zero": false}, "axis": null},
                "y": {"field": "p", "type": "quantitative", "scale": {"domain": [4.59, 9.465], "nice": false, "zero": false}, "axis": null}
              }
            }
          ],
          "resolve": {"axis": {"x": "independent", "y": "independent"}}
        }
      ],
      "spacing": 15.7,
      "resolve": {"scale": {"color": "independent", "fill": "independent", "x": "independent", "y": "independent"}, "legend": {"color": "independent", "fill": "independent"}}
    }
  ],
  "spacing": 17,
  "resolve": {"scale": {"color": "independent", "fill": "independent", "x": "independent", "y": "independent"}, "legend": {"color": "independent", "fill": "independent"}}
}
